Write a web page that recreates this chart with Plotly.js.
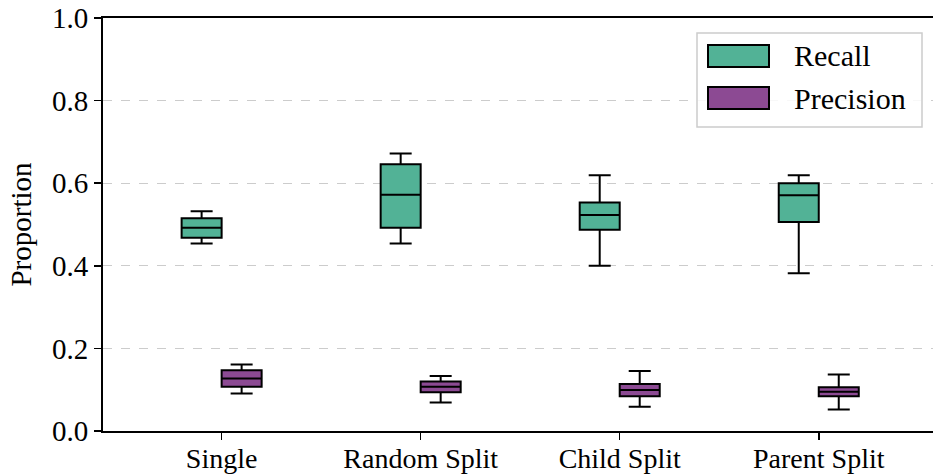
<!DOCTYPE html>
<html>
<head>
<meta charset="utf-8">
<script src="https://cdn.plot.ly/plotly-3.0.1.min.js"></script>
<style>html,body{margin:0;padding:0;background:#fff;}#chart{width:933px;height:476px;}</style>
</head>
<body>
<div id="chart"></div>
<script>
const categories = ["Single", "Random Split", "Child Split", "Parent Split"];
const seriesNames = ["Recall", "Precision"];

const recallLower  = [0.454, 0.454, 0.400, 0.382];
const recallQ1     = [0.468, 0.492, 0.487, 0.506];
const recallMedian = [0.492, 0.572, 0.523, 0.571];
const recallQ3     = [0.515, 0.646, 0.553, 0.600];
const recallUpper  = [0.532, 0.672, 0.619, 0.619];

const precLower  = [0.091, 0.069, 0.059, 0.052];
const precQ1     = [0.107, 0.094, 0.084, 0.084];
const precMedian = [0.127, 0.107, 0.099, 0.095];
const precQ3     = [0.147, 0.120, 0.114, 0.106];
const precUpper  = [0.161, 0.133, 0.145, 0.137];

const colors = ["#52b296", "#8c4a93"];
const FONT = "Liberation Serif, Times New Roman, serif";

function boxTrace(name, color, lo, q1, med, q3, up) {
  return {
    type: "box", name: name, x: categories,
    lowerfence: lo, q1: q1, median: med, q3: q3, upperfence: up,
    fillcolor: color, line: {color: "#000", width: 2},
    whiskerwidth: 0.55, boxpoints: false, showlegend: false, hoverinfo: "y"
  };
}

const data = [
  boxTrace(seriesNames[0], colors[0], recallLower, recallQ1, recallMedian, recallQ3, recallUpper),
  boxTrace(seriesNames[1], colors[1], precLower, precQ1, precMedian, precQ3, precUpper)
];

// custom legend (pixel positions converted to paper coords)
const W = 933, H = 476, ML = 103, MR = 0, MT = 18, MB = 45;
const PW = W - ML - MR, PH = H - MT - MB;
const px = x => (x - ML) / PW;
const py = y => (H - MB - y) / PH;

const shapes = [
  {type: "rect", xref: "paper", yref: "paper", x0: px(697), x1: px(922), y0: py(127), y1: py(33),
   line: {color: "#cccccc", width: 1.5}, fillcolor: "rgba(255,255,255,0.85)", layer: "above"},
  {type: "rect", xref: "paper", yref: "paper", x0: px(708), x1: px(769), y0: py(67), y1: py(45),
   line: {color: "#000", width: 2}, fillcolor: colors[0], layer: "above"},
  {type: "rect", xref: "paper", yref: "paper", x0: px(708), x1: px(769), y0: py(109), y1: py(87),
   line: {color: "#000", width: 2}, fillcolor: colors[1], layer: "above"}
];
const annotations = [
  {xref: "paper", yref: "paper", x: px(792), y: py(56), text: seriesNames[0], showarrow: false,
   xanchor: "left", yanchor: "middle", font: {family: FONT, size: 30, color: "#000"}},
  {xref: "paper", yref: "paper", x: px(792), y: py(98), text: seriesNames[1], showarrow: false,
   xanchor: "left", yanchor: "middle", font: {family: FONT, size: 30, color: "#000"}}
];

const layout = {
  width: W, height: H,
  margin: {l: ML, r: MR, t: MT, b: MB, pad: 0},
  paper_bgcolor: "#fff", plot_bgcolor: "#fff",
  boxmode: "group", boxgap: 0.598, boxgroupgap: 0,
  font: {family: FONT, size: 29, color: "#000"},
  xaxis: {
    type: "category", range: [-0.596, 3.574],
    showline: true, mirror: true, linecolor: "#000", linewidth: 2,
    ticks: "outside", ticklen: 7, tickwidth: 1.5, tickcolor: "#000",
    showgrid: false, zeroline: false, ticklabelstandoff: -6,
    tickfont: {family: FONT, size: 28, color: "#000"}
  },
  yaxis: {
    range: [0, 1], tickvals: [0, 0.2, 0.4, 0.6, 0.8, 1.0],
    ticktext: ["0.0", "0.2", "0.4", "0.6", "0.8", "1.0"],
    showline: true, linecolor: "#000", linewidth: 2,
    ticks: "outside", ticklen: 7, tickwidth: 1.5, tickcolor: "#000",
    showgrid: true, gridcolor: "#cccccc", gridwidth: 1.3, griddash: "dash",
    zeroline: false,
    tickfont: {family: FONT, size: 29, color: "#000"},
    title: {text: "Proportion", font: {family: FONT, size: 29, color: "#000"}, standoff: 12}
  },
  shapes: shapes, annotations: annotations
};

Plotly.newPlot("chart", data, layout, {displayModeBar: false, staticPlot: true});
</script>
</body>
</html>
